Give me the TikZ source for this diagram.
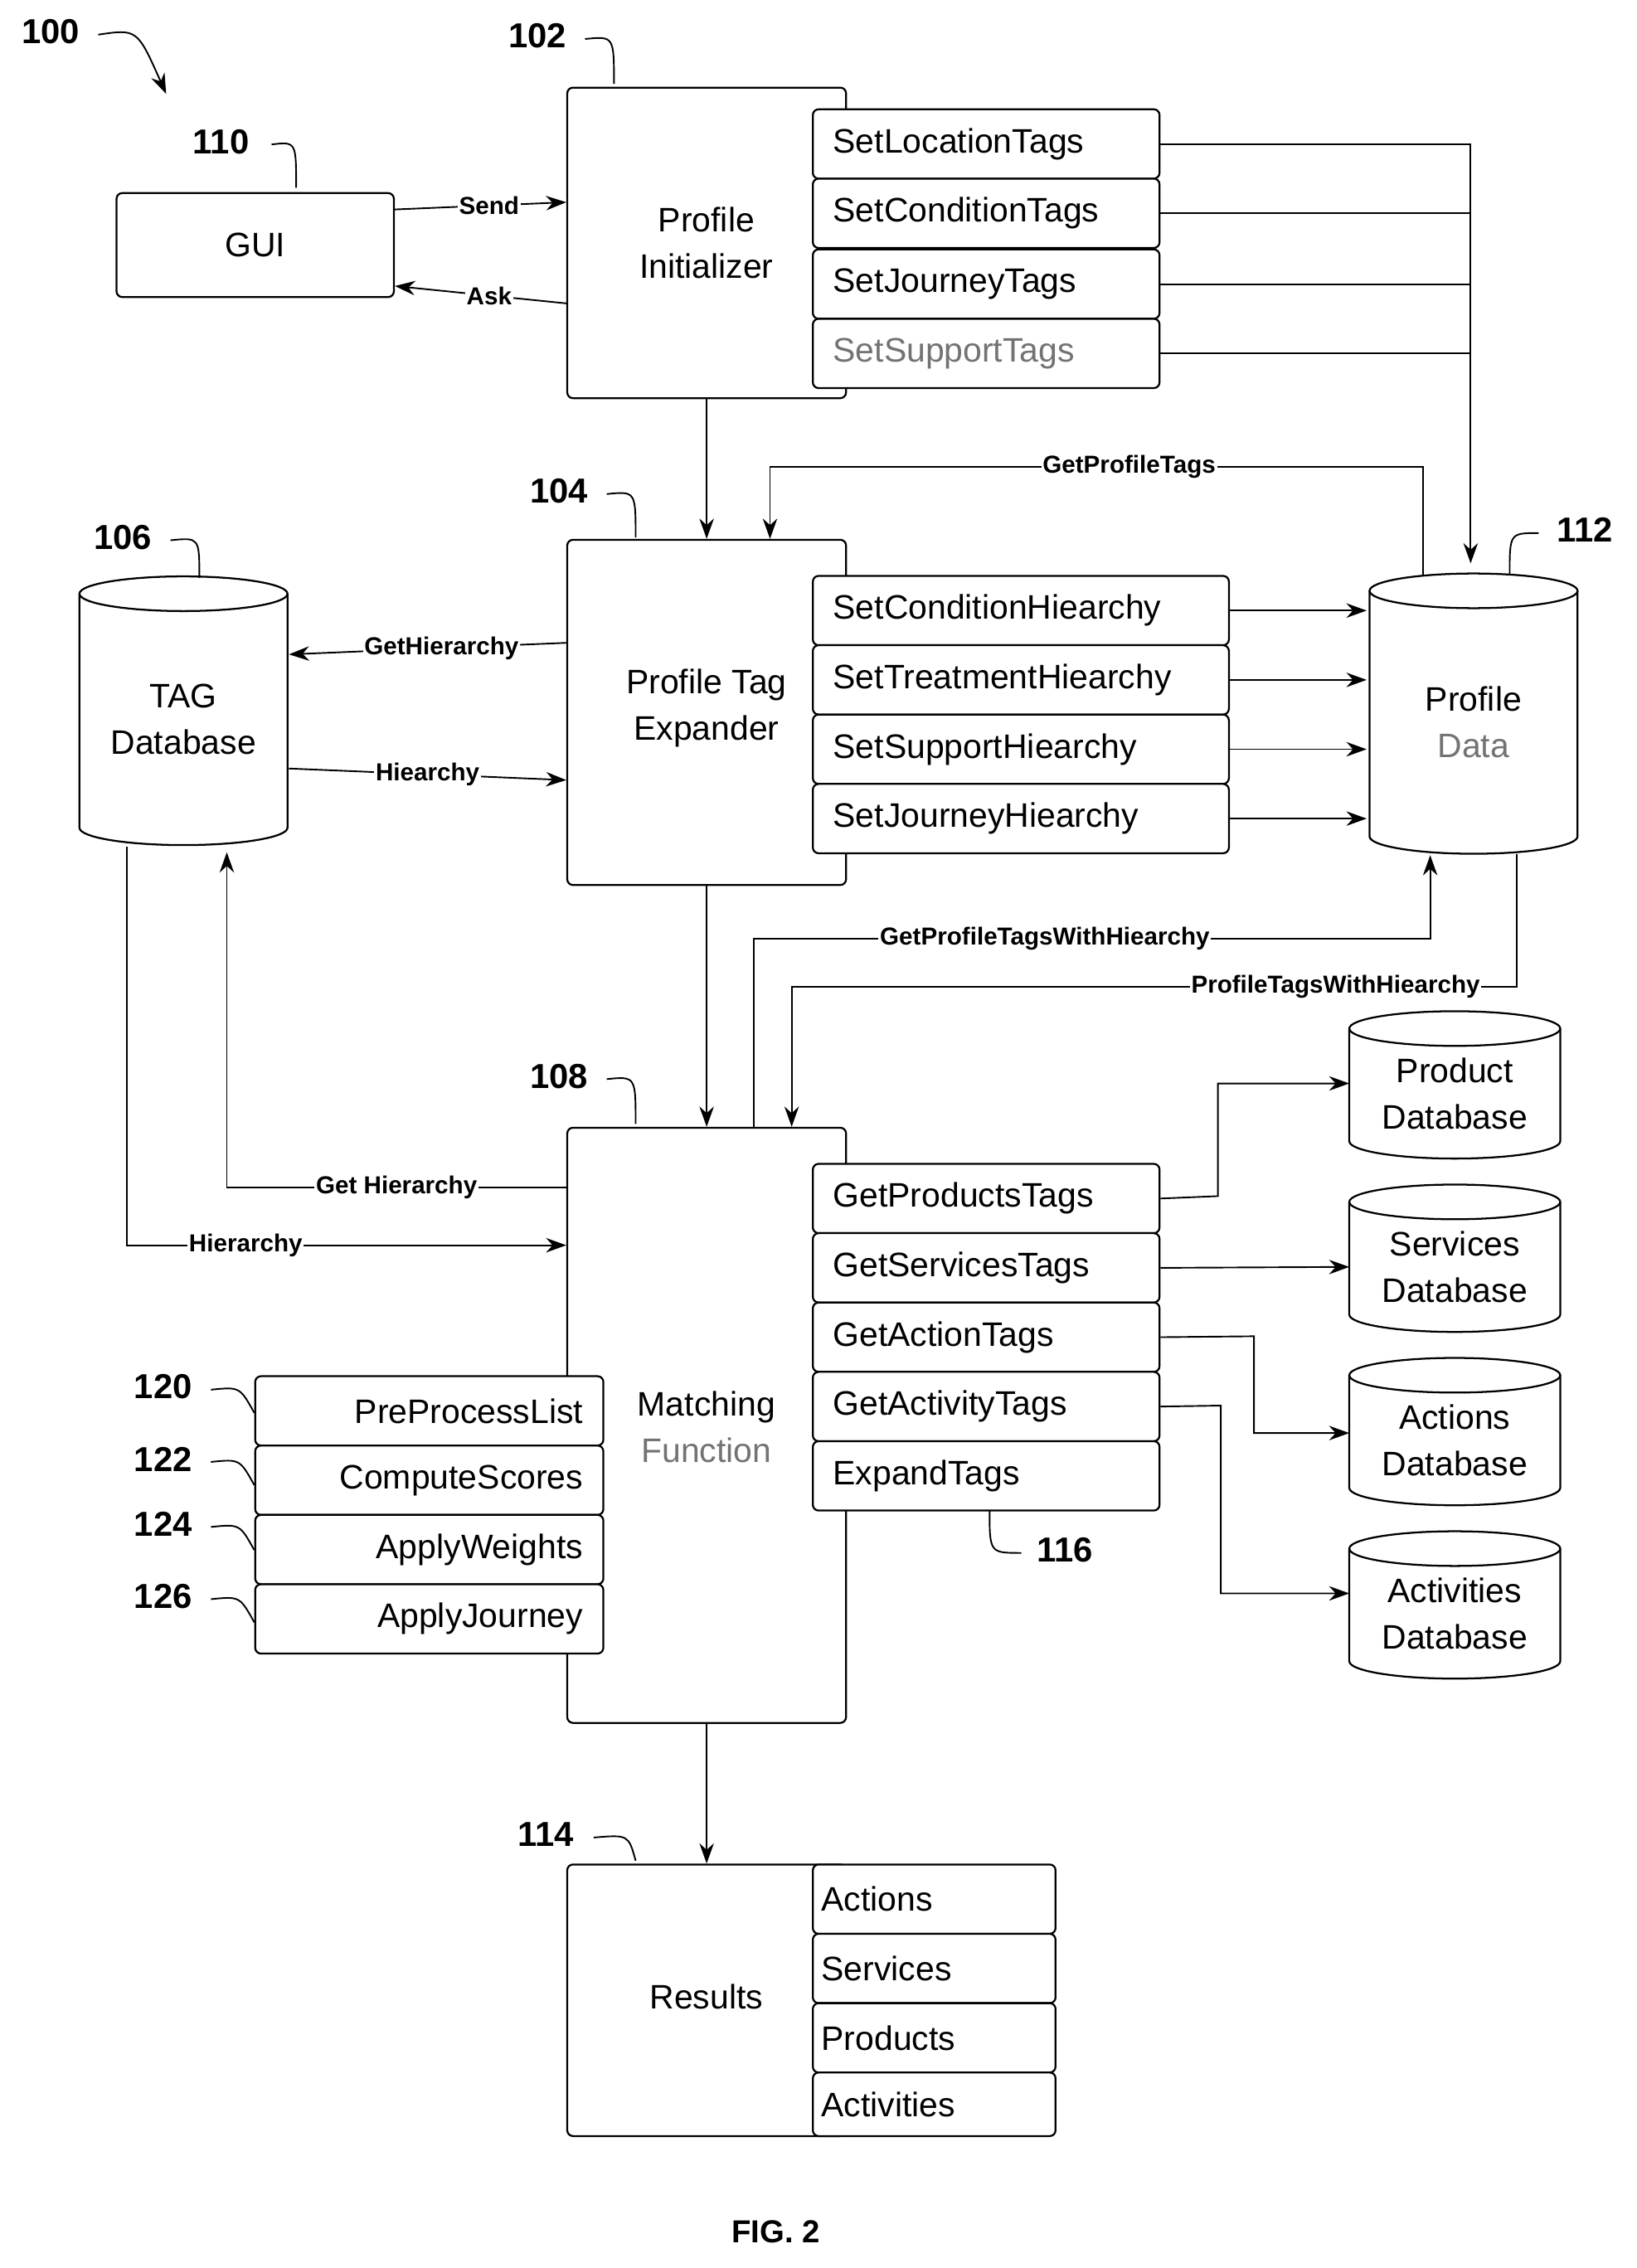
\documentclass[tikz,border=0pt]{standalone}
\usepackage{fontspec}
\setmainfont{Liberation Sans}
\usetikzlibrary{arrows.meta}
\newcommand\dbcyl[6]{% name cx cy hw hh text
 \draw[line width=1.3,fill=white] ({#2-#4},{#3-#5+12}) -- ({#2-#4},{#3+#5-12}) arc[start angle=180,end angle=0,x radius=#4,y radius=12] -- ({#2+#4},{#3-#5+12});
 \draw[line width=1.3] (#2,{#3-#5+12}) ellipse[x radius=#4,y radius=12];
 \node[inner sep=0,minimum width={2*#4},minimum height={2*#5},align=center,font=\txt] (#1) at (#2,{#3+6}) {#6};}
\newcommand\txt{\fontsize{23.5}{32}\selectfont}
\newcommand\lbl{\fontsize{17}{20}\selectfont\bfseries}
\newcommand\num{\fontsize{24}{26}\selectfont\bfseries}
\tikzset{
 box/.style={draw,line width=1.3,rounded corners=4,anchor=north west,inner sep=0,align=center,font=\txt},
 meth/.style={draw,line width=1.3,rounded corners=4,anchor=north west,minimum height=48,inner xsep=14,inner ysep=0,align=left,font=\txt,fill=white},
 con/.style={line width=1.1,-{Stealth[length=14,width=10]}},
 lab/.style={font=\lbl,fill=white,inner sep=1},
 lead/.style={line width=1.1},
}
\begin{document}
\begin{tikzpicture}[x=1pt,y=-1pt]
\useasboundingbox (0,0) rectangle (1133,1570);
% reference labels
\node[font=\num] (n100) at (35,22) {100};
\draw[con] (68,24) .. controls (95,20) .. (115,65);
\node[font=\num] (n110) at (153,98) {110};
\draw[lead] (188,100) .. controls (205,98) .. (205,130);
\node[font=\num] (n102) at (372,25) {102};
\draw[lead] (405,27) .. controls (425,25) .. (425,58);
\node[font=\num] (n104) at (387,340) {104};
\draw[lead] (420,342) .. controls (440,340) .. (440,372);
\node[font=\num] (n106) at (85,372) {106};
\draw[lead] (118,374) .. controls (138,372) .. (138,400);
\node[font=\num] (n112) at (1097,367) {112};
\draw[lead] (1065,369) .. controls (1045,369) .. (1045,398);
\node[font=\num] (n108) at (387,745) {108};
\draw[lead] (420,747) .. controls (440,745) .. (440,778);
\node[font=\num] (n114) at (378,1270) {114};
\draw[lead] (411,1272) .. controls (435,1270) .. (440,1288);
\node[font=\num] (n116) at (737,1073) {116};
\draw[lead] (707,1075) .. controls (685,1075) .. (685,1045);

% GUI
\node[box,minimum width=192,minimum height=72] (gui) at (80,133) {GUI};
% Profile Initializer
\node[box,minimum width=193,minimum height=215] (pi) at (392,60) {};
\node[font=\txt,align=center] at (489,168) {Profile\\Initializer};
\node[meth,text width=212] (s1) at (562,75) {SetLocationTags};
\node[meth,text width=212] (s2) at (562,123) {SetConditionTags};
\node[meth,text width=212] (s3) at (562,172) {SetJourneyTags};
\node[meth,text width=212,text=black!55] (s4) at (562,220) {SetSupportTags};

% Profile data
\dbcyl{pd}{1020}{494}{72}{97}{Profile\\\textcolor{black!55}{Data}}
% TAG
\dbcyl{tag}{127}{492}{72}{93}{TAG\\Database}

% Profile tag expander
\node[box,minimum width=193,minimum height=239] (pte) at (392,373) {};
\node[font=\txt,align=center] at (489,490) {Profile Tag\\Expander};
\node[meth,text width=260] (h1) at (562,398) {SetConditionHiearchy};
\node[meth,text width=260] (h2) at (562,446) {SetTreatmentHiearchy};
\node[meth,text width=260] (h3) at (562,494) {SetSupportHiearchy};
\node[meth,text width=260] (h4) at (562,542) {SetJourneyHiearchy};

% Matching
\node[box,minimum width=193,minimum height=412] (mf) at (392,780) {};
\node[font=\txt,align=center] at (489,988) {Matching\\\textcolor{black!55}{Function}};
\node[meth,text width=212] (g1) at (562,805) {GetProductsTags};
\node[meth,text width=212] (g2) at (562,853) {GetServicesTags};
\node[meth,text width=212] (g3) at (562,901) {GetActionTags};
\node[meth,text width=212] (g4) at (562,949) {GetActivityTags};
\node[meth,text width=212] (g5) at (562,997) {ExpandTags};
\node[meth,text width=213,align=right] (l1) at (176,952) {PreProcessList};
\node[meth,text width=213,align=right] (l2) at (176,1000) {ComputeScores};
\node[meth,text width=213,align=right] (l3) at (176,1048) {ApplyWeights};
\node[meth,text width=213,align=right] (l4) at (176,1096) {ApplyJourney};
\foreach \n/\y in {120/960,122/1010,124/1055,126/1105}{
 \node[font=\num] at (113,\y) {\n};
 \draw[lead] (146,\y+2) .. controls (166,\y) .. (176,\y+18);}

% databases
\dbcyl{pdb}{1007}{751}{73}{51}{Product\\Database}
\dbcyl{sdb}{1007}{871}{73}{51}{Services\\Database}
\dbcyl{adb}{1007}{991}{73}{51}{Actions\\Database}
\dbcyl{vdb}{1007}{1111}{73}{51}{Activities\\Database}

% Results
\node[box,minimum width=193,minimum height=188] (res) at (392,1290) {};
\node[font=\txt] at (489,1382) {Results};
\node[meth,minimum height=48,text width=156,inner xsep=6] (r1) at (562,1290) {Actions};
\node[meth,minimum height=48,text width=156,inner xsep=6] (r2) at (562,1338) {Services};
\node[meth,minimum height=48,text width=156,inner xsep=6] (r3) at (562,1386) {Products};
\node[meth,minimum height=44,text width=156,inner xsep=6] (r4) at (562,1434) {Activities};

% connectors
\draw[con] (gui.east |- 0,145) -- node[lab,pos=0.55] {Send} (pi.west |- 0,140);
\draw[con] (pi.west |- 0,210) -- node[lab,pos=0.45] {Ask} (gui.east |- 0,198);
\foreach \s in {s1,s2,s3,s4}{\draw[line width=1.1] (\s.east) -| (1018,300);}
\draw[con] (1018,100) -- (1018,390);
\draw[con] (pi.south) -- (pte.north);
\draw[con] (985,398) -- (985,323) -- node[lab,pos=0.45] {GetProfileTags} (533,323) -- (533,373);
\foreach \h in {h1,h2,h3,h4}{\draw[con] (\h.east) -- (946,0 |- \h.east);}
\draw[con] (pte.west |- 0,445) -- node[lab,pos=0.45] {GetHierarchy} (200,453);
\draw[con] (200,532) -- node[lab,pos=0.5] {Hiearchy} (392,540);
\draw[con] (pte.south) -- (mf.north);
\draw[con] (522,780) -- (522,650) -- node[lab,pos=0.43] {GetProfileTagsWithHiearchy} (990,650) -- (990,592);
\draw[con] (1050,591) -- (1050,683) -- node[lab,pos=0.25] {ProfileTagsWithHiearchy} (548,683) -- (548,780);
\draw[con] (mf.west |- 0,822) -- node[lab,pos=0.5] {Get Hierarchy} (157,822) -- (157,590);
\draw[con] (88,586) -- (88,862) -- node[lab,pos=0.27] {Hierarchy} (mf.west |- 0,862);
\draw[con] (g1.east) -- (843,828) -- (843,750) -- (934,750);
\draw[con] (g2.east) -- (934,877);
\draw[con] (g3.east) -- (868,925) -- (868,992) -- (934,992);
\draw[con] (g4.east) -- (845,973) -- (845,1103) -- (934,1103);
\draw[con] (mf.south) -- (res.north);

\node[font=\fontsize{22}{24}\selectfont\bfseries] (fig) at (537,1545) {FIG. 2};
\end{tikzpicture}
\end{document}
